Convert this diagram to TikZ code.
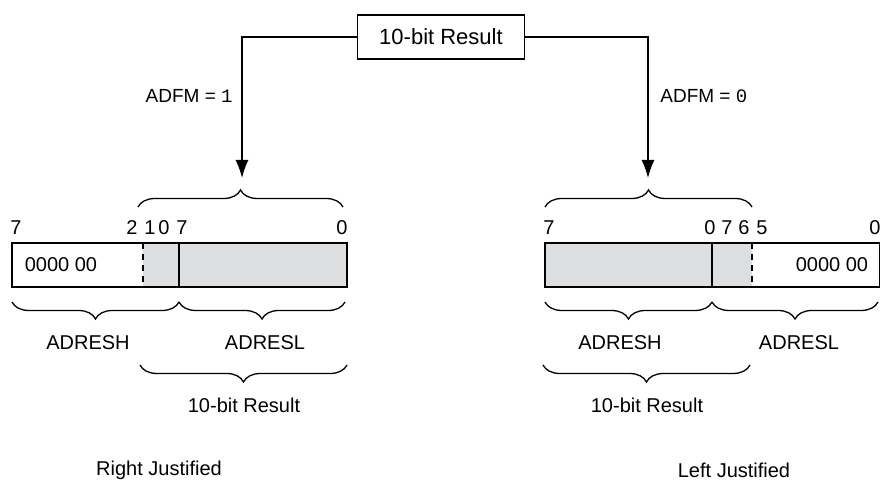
\documentclass[tikz,border=0pt]{standalone}
\usepackage{fontspec}
\setmainfont{Liberation Sans}
\newfontfamily\codefont{Liberation Mono}
\usetikzlibrary{arrows.meta,decorations.pathreplacing}
\definecolor{regshade}{RGB}{221,222,224}
\tikzset{
  regline/.style={line width=0.85pt},
  flowline/.style={line width=0.75pt, -{Latex[length=9pt,width=6.5pt]}},
  grpbrace/.style={decorate, decoration={brace, amplitude=8.5pt}, line width=0.65pt},
  lbl/.style={inner sep=0pt, font=\fontsize{10}{12}\selectfont},
  bitnum/.style={inner sep=0pt, font=\fontsize{10}{12}\selectfont},
  resbox/.style={draw, line width=0.75pt, minimum width=83.5pt, minimum height=22pt,
    font=\fontsize{11}{13}\selectfont}
}
\begin{document}
\begin{tikzpicture}[x=0.5pt,y=-0.5pt]
  \useasboundingbox (0,0) rectangle (880,480);
  % Result box and the two branches
  \node[resbox] (res) at (441,37) {10-bit Result};
  \coordinate (rtip) at (242,178);
  \coordinate (ltip) at (648,178);
  \draw[flowline] (res.west) -| (rtip);
  \draw[flowline] (res.east) -| (ltip);
  \node[lbl, anchor=east, font=\fontsize{9.5}{12}\selectfont] (adfm1) at (233,96) {ADFM = {\codefont 1}};
  \node[lbl, anchor=west, font=\fontsize{9.5}{12}\selectfont] (adfm0) at (660,96) {ADFM = {\codefont 0}};
  % Right justified register
  \fill[regshade] (143,243) rectangle (347,287);
  \draw[regline] (12,243) rectangle (347,287);
  \draw[regline] (179,243) -- (179,287);
  \draw[regline, dash pattern=on 3pt off 2.5pt] (143,243) -- (143,287);
  \node[lbl] (rzero) at (61,265) {0000 00};
  \foreach \x/\b [count=\k] in {16/7,132/2,150/1,164/0,182/7,342/0}
    \node[bitnum] (rbit\k) at (\x,228) {\b};
  % Left justified register
  \fill[regshade] (545,243) rectangle (752,287);
  \draw[regline] (545,243) rectangle (880,287);
  \draw[regline] (712,243) -- (712,287);
  \draw[regline, dash pattern=on 3pt off 2.5pt] (752,243) -- (752,287);
  \node[lbl] (lzero) at (832,265) {0000 00};
  \foreach \x/\b [count=\k] in {549/7,710/0,727/7,744/6,762/5,875/0}
    \node[bitnum] (lbit\k) at (\x,228) {\b};
  % Braces, right justified
  \draw[grpbrace] (138,207) -- (343,207);
  \draw[grpbrace] (179,302) -- (12,302);
  \draw[grpbrace] (345,302) -- (179,302);
  \draw[grpbrace] (347,365) -- (140,365);
  % Braces, left justified
  \draw[grpbrace] (545,207) -- (752,207);
  \draw[grpbrace] (712,302) -- (545,302);
  \draw[grpbrace] (878,302) -- (712,302);
  \draw[grpbrace] (750,365) -- (543,365);
  % Labels
  \node[lbl] (rhigh) at (88,343) {ADRESH};
  \node[lbl] (rlow) at (265,343) {ADRESL};
  \node[lbl] (rres) at (244,405) {10-bit Result};
  \node[lbl] (rjust) at (159,470) {Right Justified};
  \node[lbl] (lhigh) at (620,343) {ADRESH};
  \node[lbl] (llow) at (799,343) {ADRESL};
  \node[lbl] (lres) at (647,405) {10-bit Result};
  \node[lbl] (ljust) at (734,470) {Left Justified};
\end{tikzpicture}
\end{document}
